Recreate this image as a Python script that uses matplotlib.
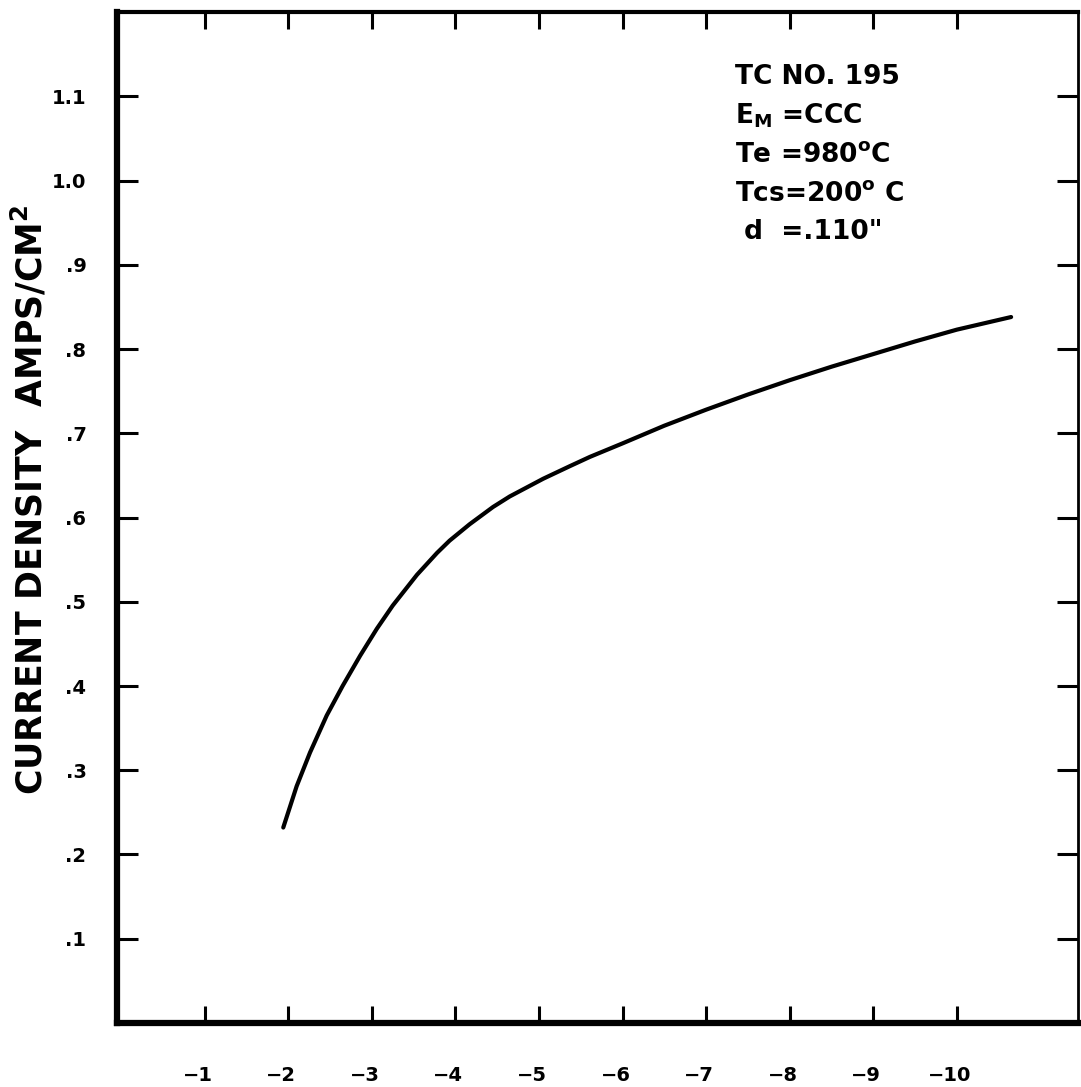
import numpy as np
import matplotlib.pyplot as plt
from matplotlib.transforms import ScaledTranslation

# collector voltage (volts, negative) and current density
volts = [-1.94, -2.1, -2.26, -2.46, -2.65, -2.86, -3.06, -3.25, -3.54, -3.78, -3.93,
         -4.17, -4.45, -4.65, -5.05, -5.37, -5.61, -6.0, -6.5, -7.0, -7.5, -8.0,
         -8.5, -9.0, -9.5, -10.0, -10.65]
density = [0.232, 0.281, 0.321, 0.365, 0.40, 0.436, 0.468, 0.4955, 0.532, 0.558, 0.5725,
           0.592, 0.6125, 0.625, 0.646, 0.661, 0.672, 0.688, 0.709, 0.728, 0.746, 0.763,
           0.779, 0.794, 0.809, 0.823, 0.838]

x_ticks = [-1, -2, -3, -4, -5, -6, -7, -8, -9, -10]
x_labels = ['\u2212' + str(-t) for t in x_ticks]
y_ticks = [0.1, 0.2, 0.3, 0.4, 0.5, 0.6, 0.7, 0.8, 0.9, 1.0, 1.1]
y_labels = ['.1', '.2', '.3', '.4', '.5', '.6', '.7', '.8', '.9', '1.0', '1.1']

notes = ['TC NO. 195', r'E$_{\mathbf{M}}$ =CCC', r'Te =980$^{\mathbf{o}}$C',
         r'Tcs=200$^{\mathbf{o}}$ C', ' d  =.110"']

plt.rcParams['font.family'] = ['DejaVu Sans']
plt.rcParams['font.weight'] = 'bold'
plt.rcParams['mathtext.default'] = 'bf'

fig = plt.figure(figsize=(10.81, 10.87), dpi=100)
ax = fig.add_axes([0.1082, 0.0589, 0.889, 0.930])

ax.plot(volts, density, color='black', lw=3.0, solid_capstyle='round')

ax.set_xlim(0.05, -11.45)
ax.set_ylim(0, 1.2)
ax.set_xticks(x_ticks)
ax.set_xticklabels(x_labels, fontsize=14, fontweight='bold')
ax.set_yticks(y_ticks)
ax.set_yticklabels(y_labels, fontsize=14, fontweight='bold')

ax.tick_params(axis='both', direction='in', top=True, right=True, width=2.2, color='black')
ax.tick_params(axis='y', which='major', length=15, pad=22)
ax.tick_params(axis='x', which='major', length=12, pad=31)

# hand lettered labels sit a little left of their ticks
shift = ScaledTranslation(-7 / 100, 0, fig.dpi_scale_trans)
for lab in ax.get_xticklabels():
    lab.set_transform(lab.get_transform() + shift)

for side in ['left', 'bottom']:
    ax.spines[side].set_linewidth(4.5)
ax.spines['top'].set_linewidth(3)
ax.spines['right'].set_linewidth(2)

fig.text(30 / 1081, 1 - 500 / 1087, 'CURRENT DENSITY  AMPS/CM$^{2}$', rotation=90,
         fontsize=25, fontweight='bold', ha='center', va='center')

# parameter block, upper right
for i, line in enumerate(notes):
    ax.text(0.643, 0.936 - i * 0.0385, line, transform=ax.transAxes, fontsize=19,
            fontweight='bold', va='center', ha='left')

fig.savefig('out.png', dpi=100)
